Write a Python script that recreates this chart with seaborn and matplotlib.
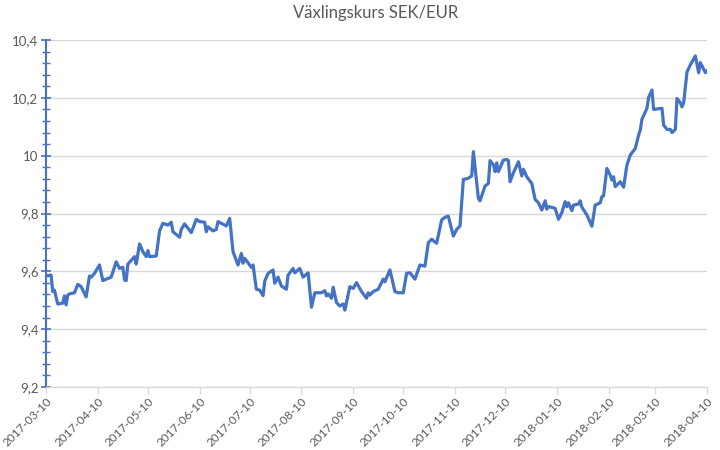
import pandas as pd
import matplotlib.pyplot as plt
import matplotlib.dates as mdates
import matplotlib.ticker as mticker
import seaborn as sns

# Dagar efter 2017-03-10 och växlingskurs SEK/EUR
startdatum = "2017-03-10"
dagar = [0, 3, 4, 5, 7, 10, 11, 12, 13, 14, 17, 19, 21, 24, 26, 27, 29, 32, 34, 39,
         42, 44, 46, 47, 48, 49, 53, 54, 56, 58, 60, 61, 62, 66, 68, 70, 73, 75, 76, 80,
         81, 83, 87, 90, 92, 95, 96, 97, 100, 102, 103, 108, 110, 112, 115, 117, 118, 119, 123, 124,
         126, 128, 130, 131, 133, 136, 137, 139, 141, 144, 145, 148, 149, 151, 152, 154, 157, 159, 161, 165,
         167, 168, 169, 171, 172, 174, 176, 178, 179, 182, 184, 186, 189, 192, 193, 194, 196, 199, 202, 203,
         206, 209, 211, 214, 216, 218, 221, 224, 227, 229, 231, 234, 237, 239, 241, 244, 246, 248, 250, 253,
         255, 256, 259, 260, 263, 265, 266, 268, 269, 270, 271, 274, 276, 277, 278, 280, 283, 285, 286, 288,
         291, 293, 295, 297, 299, 300, 301, 305, 307, 309, 311, 312, 313, 315, 316, 319, 320, 321, 324, 327,
         329, 332, 333, 334, 336, 338, 339, 340, 341, 344, 346, 348, 350, 353, 355, 356, 357, 360, 361, 363,
         364, 369, 370, 372, 374, 375, 377, 378, 380, 381, 382, 384, 386, 389, 391, 392, 394, 395, 396]
kurs = [9.584, 9.587, 9.530, 9.535, 9.487, 9.490, 9.515, 9.484, 9.518, 9.522, 9.526, 9.555, 9.547, 9.512, 9.584, 9.580, 9.593, 9.622, 9.568, 9.580,
        9.633, 9.610, 9.614, 9.570, 9.568, 9.625, 9.651, 9.625, 9.695, 9.668, 9.651, 9.672, 9.651, 9.653, 9.740, 9.766, 9.760, 9.770, 9.737, 9.718,
        9.745, 9.764, 9.734, 9.780, 9.772, 9.770, 9.737, 9.754, 9.740, 9.745, 9.772, 9.757, 9.783, 9.668, 9.622, 9.662, 9.628, 9.645, 9.614, 9.622,
        9.538, 9.535, 9.516, 9.566, 9.593, 9.605, 9.559, 9.580, 9.549, 9.538, 9.587, 9.610, 9.595, 9.605, 9.610, 9.580, 9.595, 9.476, 9.526, 9.526,
        9.533, 9.515, 9.522, 9.507, 9.545, 9.492, 9.480, 9.487, 9.466, 9.547, 9.541, 9.561, 9.530, 9.507, 9.526, 9.518, 9.530, 9.538, 9.573, 9.564,
        9.605, 9.530, 9.526, 9.526, 9.593, 9.595, 9.573, 9.622, 9.618, 9.699, 9.711, 9.697, 9.778, 9.787, 9.791, 9.722, 9.745, 9.757, 9.918, 9.922,
        9.930, 10.014, 9.853, 9.844, 9.895, 9.904, 9.983, 9.968, 9.945, 9.975, 9.945, 9.985, 9.987, 9.983, 9.910, 9.941, 9.979, 9.930, 9.953, 9.927,
        9.904, 9.849, 9.837, 9.812, 9.844, 9.815, 9.824, 9.818, 9.780, 9.803, 9.841, 9.824, 9.837, 9.810, 9.829, 9.833, 9.844, 9.822, 9.795, 9.756,
        9.829, 9.837, 9.858, 9.861, 9.956, 9.933, 9.916, 9.927, 9.893, 9.910, 9.891, 9.968, 10.002, 10.025, 10.071, 10.089, 10.126, 10.164, 10.202, 10.227,
        10.160, 10.164, 10.106, 10.091, 10.091, 10.080, 10.091, 10.198, 10.183, 10.169, 10.183, 10.290, 10.314, 10.345, 10.287, 10.322, 10.299, 10.287, 10.294]

df = pd.DataFrame({
    "Datum": pd.Timestamp(startdatum) + pd.to_timedelta(dagar, unit="D"),
    "Kurs": kurs,
})

blå = "#4472C4"
grå_text = "#595959"
grå_linje = "#D9D9D9"

sns.set_style("white")
plt.rcParams["font.family"] = ["Lato", "DejaVu Sans"]

fig = plt.figure(figsize=(7.2, 4.5), dpi=100)
ax = fig.add_axes([0.064, 0.14, 0.918, 0.771])

sns.lineplot(data=df, x="Datum", y="Kurs", ax=ax, color=blå, linewidth=2.3)

ax.set_xlim(pd.Timestamp("2017-03-10"), pd.Timestamp("2018-04-10"))
ax.set_ylim(9.2, 10.4)

# y-axel
ax.yaxis.set_major_locator(mticker.MultipleLocator(0.2))
ax.yaxis.set_minor_locator(mticker.MultipleLocator(0.04))
ax.yaxis.set_major_formatter(mticker.FuncFormatter(
    lambda v, p: f"{v:.1f}".replace(".0", "").replace(".", ",")))
ax.grid(axis="y", color=grå_linje, linewidth=1.0)
ax.grid(axis="x", visible=False)
ax.tick_params(axis="y", which="major", left=True, direction="inout", length=7, width=1.2,
               color=blå, labelcolor=grå_text, labelsize=9.5, pad=2)
ax.tick_params(axis="y", which="minor", left=True, direction="inout", length=6, width=1.0, color=blå)

# x-axel
ax.xaxis.set_major_locator(mdates.MonthLocator(bymonthday=10))
ax.xaxis.set_major_formatter(mdates.DateFormatter("%Y-%m-%d"))
ax.tick_params(axis="x", which="major", bottom=True, direction="out", length=5, width=1.0,
               color=grå_linje, labelcolor=grå_text, labelsize=8.5, pad=1)
for lbl in ax.get_xticklabels():
    lbl.set_rotation(45)
    lbl.set_ha("right")
    lbl.set_rotation_mode("anchor")

for side in ["top", "right"]:
    ax.spines[side].set_visible(False)
ax.spines["left"].set_color(blå)
ax.spines["left"].set_linewidth(1.5)
ax.spines["bottom"].set_color(grå_linje)
ax.spines["bottom"].set_linewidth(1.0)

ax.set_xlabel("")
ax.set_ylabel("")
fig.text(0.522, 0.988, "Växlingskurs SEK/EUR", ha="center", va="top",
         fontsize=12, color=grå_text)

fig.savefig("out.png", dpi=100)
